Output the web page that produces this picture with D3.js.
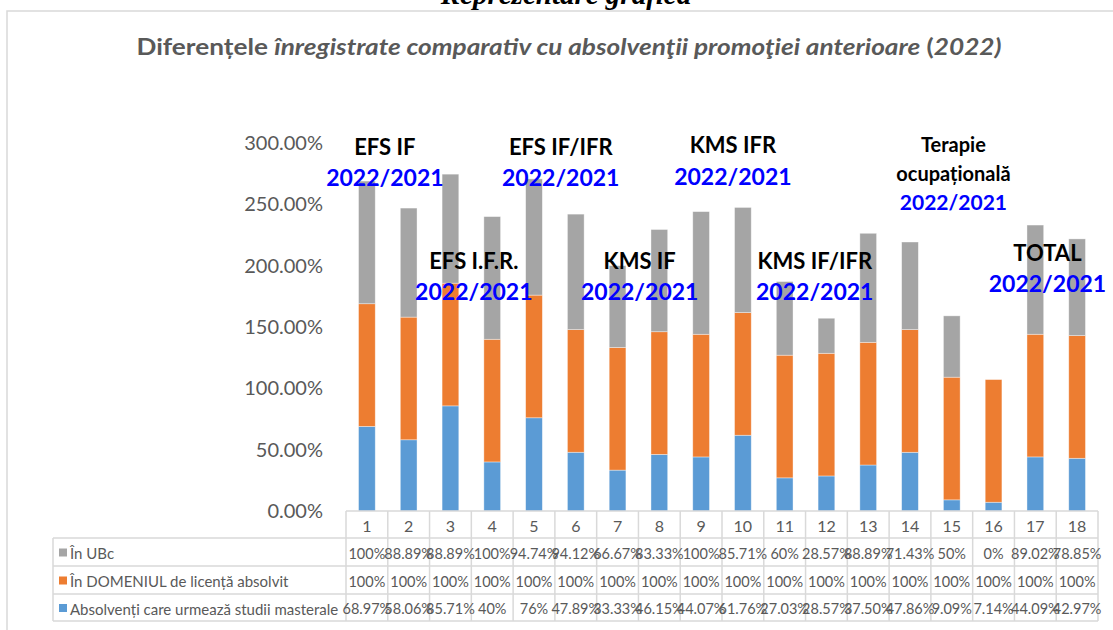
<!DOCTYPE html>
<html>
<head>
  <meta charset="utf-8">
  <script src="https://d3js.org/d3.v7.min.js"></script>
  <style>
    body { margin: 0; background: #fff; }
    svg { display: block; font-family: Lato, "Open Sans", sans-serif; }
  </style>
</head>
<body>
  <svg class="chart" width="1113" height="630"></svg>
  <script>
      // data
      const categories = ["1","2","3","4","5","6","7","8","9","10","11","12","13","14","15","16","17","18"];
      const masterale  = [68.97, 58.06, 85.71, 40, 76, 47.89, 33.33, 46.15, 44.07, 61.76, 27.03, 28.57, 37.5, 47.86, 9.09, 7.14, 44.09, 42.97];
      const domeniu    = [100, 100, 100, 100, 100, 100, 100, 100, 100, 100, 100, 100, 100, 100, 100, 100, 100, 100];
      const ubc        = [100, 88.89, 88.89, 100, 94.74, 94.12, 66.67, 83.33, 100, 85.71, 60, 28.57, 88.89, 71.43, 50, 0, 89.02, 78.85];
      const seriesNames = ["Absolvenți care urmează studii masterale", "În DOMENIUL de licență absolvit", "În UBc"];
      const yTicks = [0, 50, 100, 150, 200, 250, 300];

      // text boxes on the chart (label, blue sub-label)
      const notes = [
        { lines: ["EFS IF"], sub: "2022/2021", at: 0.43, top: 297.5 },
        { lines: ["EFS I.F.R."], sub: "2022/2021", at: 2.56, top: 204.6 },
        { lines: ["EFS IF/IFR"], sub: "2022/2021", at: 4.64, top: 297.5 },
        { lines: ["KMS IF"], sub: "2022/2021", at: 6.53, top: 204.6 },
        { lines: ["KMS IFR"], sub: "2022/2021", at: 8.76, top: 298.4 },
        { lines: ["KMS IF/IFR"], sub: "2022/2021", at: 10.72, top: 204.6 },
        { lines: ["Terapie", "ocupațională"], sub: "2022/2021", at: 14.04, top: 299.2, small: true },
        { lines: ["TOTAL"], sub: "2022/2021", at: 16.29, top: 211.1 }
      ];

      const COLORS = ["#5B9BD5", "#ED7D31", "#A5A5A5"];
      const GRID = "#D9D9D9";
      const TEXT = "#595959";
      const PLOT = { left: 346, right: 1098, top: 143, bottom: 511 };
      const TABLE_LEFT = 53;
      const ROW_H = [511, 538, 566, 594, 621];

      const svg = d3.select(".chart");

      // heading above the chart frame (cut off in the source)
      svg.append("text")
        .attr("x", 566).attr("y", 4)
        .attr("text-anchor", "middle")
        .style("font-family", "'Liberation Serif', serif")
        .style("font-weight", "bold").style("font-style", "italic")
        .style("font-size", "29px")
        .text("Reprezentare grafică");

      // chart frame
      svg.append("rect")
        .attr("x", 7).attr("y", 11).attr("width", 1200).attr("height", 700)
        .attr("fill", "none").attr("stroke", GRID).attr("stroke-width", 1.5);

      // title
      const title = svg.append("text")
        .attr("x", 569).attr("y", 55)
        .attr("text-anchor", "middle")
        .attr("textLength", 865).attr("lengthAdjust", "spacingAndGlyphs")
        .style("font-size", "22px").style("font-weight", "bold")
        .style("fill", TEXT);
      title.append("tspan").text("Diferențele ");
      title.append("tspan").style("font-style", "italic")
        .text("înregistrate comparativ cu absolvenţii promoţiei anterioare");
      title.append("tspan").text(" (");
      title.append("tspan").style("font-style", "italic").text("2022)");

      // scales
      const x = d3.scaleBand().domain(categories)
        .range([PLOT.left, PLOT.right]).paddingInner(0.6).paddingOuter(0.3);
      const xCol = d3.scaleBand().domain(categories).range([PLOT.left, PLOT.right]);
      const y = d3.scaleLinear().domain([0, 300]).range([PLOT.bottom, PLOT.top]);

      // y axis
      const yAxis = svg.append("g")
        .attr("transform", `translate(${PLOT.left},0)`)
        .call(d3.axisLeft(y).tickValues(yTicks).tickSize(0).tickPadding(23)
          .tickFormat(d => d.toFixed(2) + "%"));
      yAxis.select(".domain").remove();
      yAxis.selectAll("text")
        .style("font-family", "Lato, sans-serif")
        .style("font-size", "20px").style("fill", TEXT);

      // stacked bars
      const rows = categories.map((c, i) => ({ cat: c, s0: masterale[i], s1: domeniu[i], s2: ubc[i] }));
      const stacked = d3.stack().keys(["s0", "s1", "s2"])(rows);

      svg.append("g").selectAll("g")
        .data(stacked).enter().append("g")
        .attr("fill", (d, i) => COLORS[i])
        .selectAll("rect")
        .data(d => d).enter().append("rect")
        .attr("x", d => x(d.data.cat))
        .attr("width", x.bandwidth())
        .attr("y", d => y(d[1]))
        .attr("height", d => y(d[0]) - y(d[1]))
        .attr("stroke", "#ffffff").attr("stroke-opacity", 0.5).attr("stroke-width", 0.75);

      // data table below
      const table = svg.append("g");
      const line = (x1, y1, x2, y2) => table.append("line")
        .attr("x1", x1).attr("y1", y1).attr("x2", x2).attr("y2", y2)
        .attr("stroke", GRID).attr("stroke-width", 1.5);

      line(PLOT.left, ROW_H[0], PLOT.right, ROW_H[0]);
      for (let r = 1; r < ROW_H.length; r++) line(TABLE_LEFT, ROW_H[r], PLOT.right, ROW_H[r]);
      line(TABLE_LEFT, ROW_H[1], TABLE_LEFT, ROW_H[4]);
      categories.forEach(c => line(xCol(c), ROW_H[0], xCol(c), ROW_H[4]));
      line(PLOT.right, ROW_H[0], PLOT.right, ROW_H[4]);

      // category row
      table.selectAll(".cat").data(categories).enter().append("text")
        .attr("class", "cat")
        .attr("x", d => xCol(d) + xCol.bandwidth() / 2)
        .attr("y", (ROW_H[0] + ROW_H[1]) / 2 + 1)
        .attr("text-anchor", "middle").attr("dominant-baseline", "central")
        .style("font-size", "16px").style("fill", TEXT)
        .text(d => d);

      const fmt = v => Number.isInteger(v) ? v + "%" : v.toFixed(2) + "%";
      const tableRows = [
        { name: seriesNames[2], values: ubc, color: COLORS[2] },
        { name: seriesNames[1], values: domeniu, color: COLORS[1] },
        { name: seriesNames[0], values: masterale, color: COLORS[0] }
      ];

      tableRows.forEach((row, r) => {
        const yc = (ROW_H[r + 1] + ROW_H[r + 2]) / 2 + 1;
        table.append("rect")
          .attr("x", 59).attr("y", yc - 4.5).attr("width", 8).attr("height", 8)
          .attr("fill", row.color);
        table.append("text")
          .attr("x", 70).attr("y", yc)
          .attr("dominant-baseline", "central")
          .style("font-size", "15px").style("fill", TEXT)
          .text(row.name);
        table.selectAll(null).data(row.values).enter().append("text")
          .attr("x", (d, i) => xCol(categories[i]) + xCol.bandwidth() / 2)
          .attr("y", yc)
          .attr("text-anchor", "middle").attr("dominant-baseline", "central")
          .style("font-size", "14.5px").style("fill", TEXT)
          .text(d => fmt(d));
      });

      // annotations
      const step = xCol.bandwidth();
      const noteX = n => x(categories[0]) + x.bandwidth() / 2 + n.at * step;
      const notesG = svg.append("g");
      notes.forEach(n => {
        const size = n.small ? 20 : 22;
        const subSize = n.small ? 21 : 23;
        const lineH = n.small ? 29 : 31;
        const y0 = y(n.top);
        n.lines.forEach((t, k) => {
          notesG.append("text")
            .attr("x", noteX(n)).attr("y", y0 + k * lineH)
            .attr("text-anchor", "middle").attr("dominant-baseline", "central")
            .style("font-size", size + "px").style("font-weight", "bold")
            .style("fill", "#000")
            .text(t);
        });
        notesG.append("text")
          .attr("x", noteX(n)).attr("y", y0 + n.lines.length * lineH)
          .attr("text-anchor", "middle").attr("dominant-baseline", "central")
          .style("font-size", subSize + "px").style("font-weight", "bold")
          .style("fill", "#0000FF")
          .text(n.sub);
      });
  </script>
</body>
</html>
